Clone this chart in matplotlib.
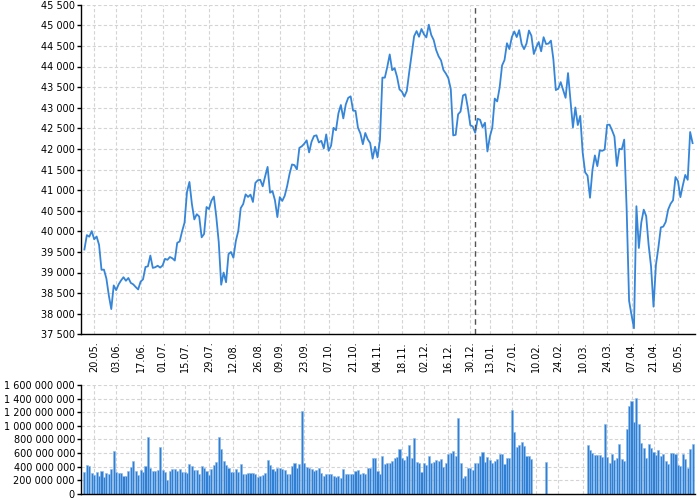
import numpy as np
import pandas as pd
import matplotlib
matplotlib.use("Agg")
import matplotlib.pyplot as plt
from matplotlib.ticker import FuncFormatter, MultipleLocator

# obchodní dny (bez svátků)
holidays = ['2024-05-27', '2024-06-19', '2024-07-04', '2024-09-02', '2024-11-28',
            '2024-12-25', '2025-01-01', '2025-01-09', '2025-01-20', '2025-02-17',
            '2025-04-18']
dates = pd.bdate_range('2024-05-14', '2025-05-13')
dates = dates[~dates.isin(pd.to_datetime(holidays))]

# zavírací ceny
close = [
    39558, 39908, 39869, 40004, 39807, 39873, 39671, 39065, 39070, 38853, 38442, 38112, 38686,
    38572, 38711, 38807, 38886, 38799, 38868, 38747, 38712, 38647, 38589, 38778, 38834, 39134,
    39150, 39411, 39112, 39128, 39164, 39119,
    39170, 39332, 39308, 39376, 39345, 39291, 39721, 39753, 40001, 40212, 40954, 41198, 40665,
    40288, 40415, 40358, 39854, 39935, 40589, 40540, 40743, 40843,
    40348, 39737, 38703, 38998, 38763, 39446, 39498, 39358, 39766, 40009, 40563, 40660, 40897,
    40834, 40890, 40712, 41175, 41240, 41250, 41092, 41335, 41563,
    40937, 40975, 40756, 40345, 40830, 40737, 40861, 41097, 41394, 41622, 41606, 41503, 42025,
    42063, 42125, 42208, 41915, 42175, 42313, 42330,
    42156, 42196, 42012, 42352, 41954, 42080, 42512, 42454, 42864, 43065, 42740, 43077, 43239,
    43276, 42931, 42924, 42514, 42374, 42114, 42387, 42233, 42142, 41763,
    42052, 41795, 42222, 43730, 43729, 43989, 44293, 43911, 43958, 43750, 43445, 43390, 43269,
    43408, 43870, 44297, 44736, 44860, 44722, 44911,
    44782, 44706, 45014, 44766, 44643, 44402, 44248, 44149, 43914, 43828, 43717, 43450, 42327,
    42342, 42840, 42907, 43297, 43326, 42992, 42574, 42544,
    42392, 42732, 42707, 42528, 42635, 41938, 42297, 42518, 43222, 43153, 43488, 44025, 44157,
    44565, 44424, 44714, 44851, 44714, 44882, 44545,
    44422, 44556, 44873, 44748, 44303, 44470, 44594, 44369, 44711, 44546, 44556, 44628, 44177,
    43428, 43461, 43621, 43433, 43240, 43841,
    43191, 42521, 43006, 42579, 42802, 41912, 41433, 41350, 40814, 41488, 41842, 41582, 41965,
    41953, 41985, 42583, 42588, 42455, 42300, 41584, 42002,
    41990, 42226, 40546, 38315, 37966, 37646, 40609, 39594, 40213, 40525, 40369, 39669, 39142,
    38171, 39187, 39607, 40094, 40114, 40228, 40528, 40669,
    40753, 41317, 41219, 40829, 41114, 41368, 41250, 42410, 42140,
]

# objem v milionech (None = chybí)
volume_m = [
    319, 422, 407, 309, 275, 314, 260, 334, 250, 300, 290, 363, 623,
    319, 309, 309, 265, 265, 334, 388, 476, 339, 275, 348, 319, 402, 834, 383, 339, 339, 348, 687,
    348, 319, 196, 329, 363, 363, 339, 358, 324, 324, 309, 437, 402, 348, 353, 290, 402, 383,
    334, 280, 358, 422,
    466, 839, 662, 476, 422, 378, 314, 314, 363, 319, 442, 290, 290, 300, 300, 300, 290, 250,
    260, 270, 309, 496,
    422, 358, 334, 373, 373, 358, 348, 290, 290, 407, 447, 383, 432, 1217, 456, 397, 383, 358,
    334, 348,
    383, 300, 260, 290, 290, 285, 260, 245, 260, 236, 358, 290, 285, 285, 285, 334, 348, 285,
    309, 285, 383, 383, 525,
    525, 334, 285, 559, 437, 447, 447, 481, 525, 545, 657, 525, 496, 554, 712, 525, 824, 471,
    447, 314,
    447, 422, 550, 451, 461, 500, 486, 505, 397, 447, 579, 594, 623, 554, 1119, 447, 226, 265,
    378, 378, 353,
    456, 456, 554, 618, 461, 545, 496, 456, 481, 505, 589, 589, 442, 530, 530, 1232, 913, 692,
    711, 760,
    707, 554, 554, 515, None, None, None, None, None, 471, None, None, None, None, None, None,
    None, None, None,
    None, None, None, None, None, None, None, 711, 643, 594, 564, 564, 569, 540, 1026, 540, 447,
    589, 491, 530, 726,
    505, 486, 947, 1291, 1364, 1055, 1413, 1021, 741, 667, 530, 731, 667, 613, 574, 638, 554,
    579, 476, 432, 604,
    594, 589, 417, 412, 589, 515, 378, 653, 726,
]

tick_dates = pd.date_range('2024-05-20', '2025-05-05', freq='14D')

x = np.arange(len(dates))
vol = np.array([np.nan if v is None else v * 1e6 for v in volume_m])
tick_pos = dates.get_indexer(tick_dates)
tick_labels = [d.strftime('%d.%m.') for d in tick_dates]
year_pos = int(np.argmax(dates.year == 2025))

blue = '#3585d8'
grid_kw = dict(color='#d4d4d4', linestyle=(0, (3, 2)), linewidth=0.8)
fmt = FuncFormatter(lambda v, p: f"{v:,.0f}".replace(',', ' '))

fig = plt.figure(figsize=(7, 5), dpi=100)
ax1 = fig.add_axes([0.115, 0.3314, 0.8779, 0.6592])
ax2 = fig.add_axes([0.115, 0.0126, 0.8779, 0.2174])

ax1.plot(x, close, color=blue, lw=1.3)
ax1.axvline(year_pos, color='#555555', linestyle=(0, (4, 3)), lw=1)
ax1.set_ylim(37500, 45500)
ax1.yaxis.set_major_locator(MultipleLocator(500))

ax2.bar(x, vol, width=0.85, color='#2f7fd4', edgecolor='#8dbbec', linewidth=0.4)
ax2.set_ylim(0, 1.6e9)
ax2.yaxis.set_major_locator(MultipleLocator(2e8))

for ax in (ax1, ax2):
    ax.set_xlim(-1.6, 250)
    ax.set_axisbelow(True)
    ax.grid(True, **grid_kw)
    ax.set_xticks(tick_pos)
    ax.yaxis.set_major_formatter(fmt)
    for s in ('top', 'right'):
        ax.spines[s].set_visible(False)
    for s in ('left', 'bottom'):
        ax.spines[s].set_color('black')
        ax.spines[s].set_linewidth(1)
    ax.tick_params(axis='y', length=3, width=1, pad=1, labelsize=7)
    ax.tick_params(axis='x', length=0, labelsize=7)

ax1.set_xticklabels(tick_labels, rotation=90, va='top')
ax1.tick_params(axis='x', pad=5)
ax2.set_xticklabels([])

fig.savefig('out.png', dpi=100)
